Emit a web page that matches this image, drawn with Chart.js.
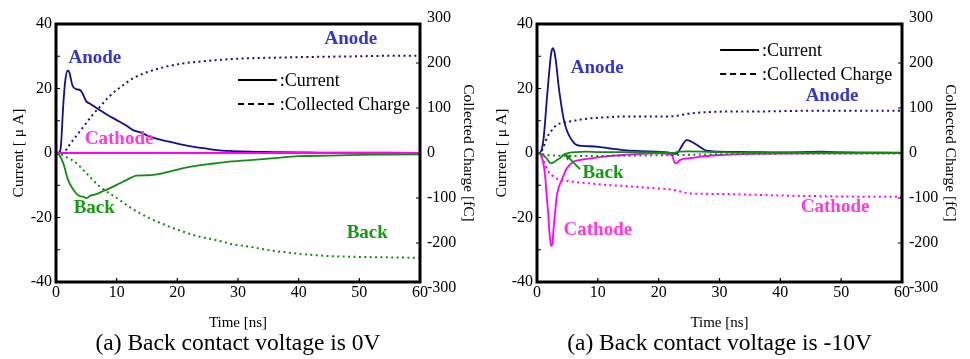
<!DOCTYPE html>
<html>
<head>
<meta charset="utf-8">
<script src="https://cdn.jsdelivr.net/npm/chart.js@4.4.0/dist/chart.umd.min.js"></script>
<style>
html, body { margin: 0; padding: 0; background: #fff; }
#wrap { position: relative; width: 970px; height: 359px; overflow: hidden; }
canvas { position: absolute; top: 0; }
#c0 { left: 0; }
#c1 { left: 485px; }
</style>
</head>
<body>
<div id="wrap">
  <canvas id="c0" width="485" height="359"></canvas>
  <canvas id="c1" width="485" height="359"></canvas>
</div>
<script>
// ---- data: back contact voltage 0V ----
const tA0 = [0, 0.5, 0.8, 1.2, 1.5, 1.9, 2.2, 2.7, 3.3, 4.0, 4.5, 5.0, 5.6, 7.2, 8.5, 10, 11.5, 12.7, 14, 15.5, 17, 19, 21, 23, 25, 26.5, 29, 32, 36, 40, 45, 50, 55, 60];
const iA0 = [0, 0.2, 2, 15, 22, 25.5, 25, 21, 19.8, 19.5, 18, 16, 15.3, 13.3, 11.8, 10.2, 8.6, 7.1, 6.3, 5.1, 4.2, 3.4, 2.5, 1.8, 1.3, 0.9, 0.6, 0.4, 0.3, 0.2, 0.1, 0.1, 0.1, 0];
const tQA0 = [0, 1.2, 2, 3, 4.5, 6, 7.25, 8.5, 10, 11.5, 12.7, 14.5, 16.5, 18.2, 20, 22, 23.7, 26, 29.2, 33, 37, 40, 45, 50, 55, 60];
const qA0 = [0, 0, 14, 32, 58, 84, 103, 122, 140, 155, 166, 177, 186, 192, 197, 201, 203, 206, 209, 211, 212, 213, 214, 215, 216, 216];
const tB0 = [0, 0.5, 1.2, 2, 2.9, 3.7, 4.4, 5.05, 5.6, 6.15, 7, 7.8, 9, 10, 11.5, 13.3, 15, 16.6, 19, 21, 23, 25.4, 28, 32, 36, 40, 45, 50, 55, 60];
const iB0 = [0, -0.5, -3.2, -8.4, -11.5, -13.2, -13.5, -14, -13.3, -13, -12.5, -11.8, -10.8, -9.9, -8.5, -7, -6.9, -6.6, -5.6, -4.7, -4, -3.4, -2.8, -2.2, -1.6, -1, -0.8, -0.6, -0.5, -0.4];
const tQB0 = [0, 1, 2, 3.4, 5, 7.25, 10, 12.7, 15, 18, 21, 23.7, 26.5, 29.2, 31.4, 34.7, 40, 45, 50, 55, 60];
const qB0 = [0, -4, -11, -23, -45, -75, -100, -125, -142, -160, -175, -186, -194, -203, -207, -215, -224, -229, -231, -232, -233];
const tC0 = [0, 60];
const iC0 = [0, 0];

// ---- data: back contact voltage -10V ----
const tA1 = [0, 0.5, 1.05, 1.3, 1.6, 2.0, 2.3, 2.58, 2.9, 3.2, 3.5, 3.9, 4.3, 4.8, 5.4, 6.0, 6.5, 7.5, 9.8, 12, 14.2, 17, 19.7, 21.5, 22.4, 23, 23.6, 24.6, 25.4, 26.3, 27.1, 27.9, 30, 35, 40, 47, 50, 55, 60];
const iA1 = [0, 0.1, 4, 9, 16.4, 25, 30.5, 32.5, 31, 27, 21.6, 16, 11.3, 7.5, 5, 3.3, 2.5, 2.2, 2, 1.4, 0.9, 0.6, 0.4, 0.2, -0.3, -0.2, 1.5, 4, 3.5, 2.5, 1.5, 0.7, 0.4, 0.3, 0.2, 0.4, 0.2, 0.1, 0.1];
const tQA1 = [0, 0.8, 1.6, 2.4, 3.2, 4.2, 5.4, 7, 8.7, 11, 14.2, 17, 20.8, 22.5, 23.5, 25.2, 27, 30.6, 35, 40, 47, 53, 60];
const qA1 = [0, 5, 33, 50, 62, 67, 70, 74, 77, 79, 81, 81, 81, 82, 84, 88, 90, 92, 92, 93, 94, 94, 94];
const tC1 = [0, 0.5, 1.05, 1.35, 1.6, 1.85, 2.02, 2.3, 2.55, 2.7, 2.95, 3.24, 3.6, 4.06, 4.88, 5.97, 7.2, 8.7, 11, 14.2, 17, 19.7, 21.5, 22.2, 22.7, 23.1, 23.5, 25.2, 27.5, 30.6, 35, 40, 50, 60];
const iC1 = [0, -0.3, -3.2, -7.5, -13.5, -19, -23.9, -28.8, -28, -23.9, -19, -13.5, -10.5, -8.4, -4.8, -2.7, -2.1, -1.7, -1.1, -0.6, -0.3, -0.1, -0.3, -0.8, -3.2, -3.0, -2.2, -1.6, -1.0, -0.6, -0.3, -0.2, -0.1, 0];
const tQC1 = [0, 0.8, 1.86, 2.8, 3.78, 5, 5.97, 8, 11.5, 15, 19, 22.4, 25.2, 30, 36.1, 42, 47, 53, 60];
const qC1 = [0, -10, -41, -53, -60, -62, -64, -67, -71, -74, -78, -82, -90, -91, -93, -95, -96, -97, -97];
const tB1 = [0, 0.5, 1.0, 1.6, 2.0, 2.4, 2.8, 3.24, 3.8, 4.3, 4.8, 5.4, 6.5, 8, 10, 15, 20, 22.5, 23.2, 25, 30, 40, 50, 60];
const iB1 = [0, -0.1, -0.6, -1.7, -2.8, -3.2, -2.9, -2.2, -1.6, -0.6, -0.2, 0.1, 0.3, 0.4, 0.3, 0.3, 0.2, 0, 0.4, 0.5, 0.3, 0.1, 0.2, 0];
const tQB1 = [0, 1, 2, 4, 7, 10, 15, 20, 23, 27, 35, 45, 60];
const qB1 = [0, -3, -5, -6, -6.5, -6.5, -6, -5, -4.5, -3.5, -2, -1, -1];

// ---- axis ticks ----
const xTicks = [0, 10, 20, 30, 40, 50, 60];
const currentTicks = [-40, -20, 0, 20, 40];
const chargeTicks = [-300, -200, -100, 0, 100, 200, 300];

const NAVY = '#10108c', MAG = '#ff00ff', GRN = '#138a13';
const LNAVY = '#3636c8', LMAG = '#ff3ad8', LGRN = '#169a16';
const SERIF = "'Liberation Serif', 'Times New Roman', serif";

function pts(ts, vs) { return ts.map((t, i) => ({ x: t, y: vs[i] })); }
function cur(ts, vs, color) {
  return { data: pts(ts, vs), yAxisID: 'y', borderColor: color, borderWidth: 1.8,
    pointRadius: 0, fill: false, cubicInterpolationMode: 'monotone' };
}
function chg(ts, vs, color) {
  return { data: pts(ts, vs), yAxisID: 'y2', borderColor: color, borderWidth: 2,
    borderDash: [2, 3.4], pointRadius: 0, fill: false, cubicInterpolationMode: 'monotone' };
}

const framePlugin = {
  id: 'frame',
  afterDatasetsDraw(chart) {
    const { ctx, chartArea: a, scales } = chart;
    ctx.save();
    ctx.strokeStyle = '#000';
    ctx.lineWidth = 1.2;
    ctx.beginPath();
    [10, 20, 30, 40, 50].forEach(v => {
      const px = scales.x.getPixelForValue(v);
      ctx.moveTo(px, a.bottom); ctx.lineTo(px, a.bottom - 4);
    });
    [-30, -20, -10, 10, 20, 30].forEach(v => {
      const py = scales.y.getPixelForValue(v);
      ctx.moveTo(a.left, py); ctx.lineTo(a.left + 4, py);
    });
    [-200, -100, 100, 200].forEach(v => {
      const py = scales.y2.getPixelForValue(v);
      ctx.moveTo(a.right, py); ctx.lineTo(a.right - 4, py);
    });
    ctx.stroke();
    ctx.lineWidth = 3;
    ctx.strokeRect(a.left, a.top, a.right - a.left, a.bottom - a.top);
    ctx.restore();
  }
};

const notesPlugin = {
  id: 'notes',
  afterDraw(chart, args, opts) {
    const { ctx, chartArea: a, scales: { x, y } } = chart;
    ctx.save();
    ctx.textAlign = 'center';
    ctx.textBaseline = 'middle';
    ctx.font = 'bold 19px ' + SERIF;
    opts.labels.forEach(l => {
      ctx.fillStyle = l.color;
      ctx.fillText(l.text, x.getPixelForValue(l.t), y.getPixelForValue(l.v));
    });
    if (opts.arrow) {
      const r = opts.arrow;
      const x0 = x.getPixelForValue(r.from[0]), y0 = y.getPixelForValue(r.from[1]);
      const x1 = x.getPixelForValue(r.to[0]), y1 = y.getPixelForValue(r.to[1]);
      ctx.strokeStyle = GRN; ctx.fillStyle = GRN; ctx.lineWidth = 1.8;
      ctx.beginPath(); ctx.moveTo(x0, y0); ctx.lineTo(x1, y1); ctx.stroke();
      const ang = Math.atan2(y1 - y0, x1 - x0);
      ctx.beginPath();
      ctx.moveTo(x1, y1);
      ctx.lineTo(x1 - 7 * Math.cos(ang - 0.45), y1 - 7 * Math.sin(ang - 0.45));
      ctx.lineTo(x1 - 7 * Math.cos(ang + 0.45), y1 - 7 * Math.sin(ang + 0.45));
      ctx.closePath(); ctx.fill();
    }
    // legend
    const lg = opts.legend;
    const lx0 = x.getPixelForValue(lg.t0), lx1 = x.getPixelForValue(lg.t1);
    const ly0 = y.getPixelForValue(lg.v0), ly1 = y.getPixelForValue(lg.v1);
    ctx.strokeStyle = '#000'; ctx.fillStyle = '#000'; ctx.lineWidth = 2;
    ctx.beginPath(); ctx.moveTo(lx0, ly0); ctx.lineTo(lx1, ly0); ctx.stroke();
    ctx.setLineDash([6, 4]);
    ctx.beginPath(); ctx.moveTo(lx0, ly1); ctx.lineTo(lx1, ly1); ctx.stroke();
    ctx.setLineDash([]);
    ctx.textAlign = 'left';
    ctx.font = '18px ' + SERIF;
    ctx.fillText(':Current', lx1 + 3, ly0 + 1);
    ctx.fillText(':Collected Charge', lx1 + 3, ly1 + 1);
    // caption
    ctx.textAlign = 'center';
    ctx.font = '23.5px ' + SERIF;
    ctx.fillText(opts.caption, (a.left + a.right) / 2, 344);
    ctx.restore();
  }
};

function makeChart(id, datasets, cfg) {
  return new Chart(document.getElementById(id), {
    type: 'line',
    data: { datasets },
    plugins: [framePlugin, notesPlugin],
    options: {
      responsive: false,
      animation: false,
      devicePixelRatio: 1,
      layout: { padding: { top: 24, left: 0, right: 0, bottom: 0 } },
      plugins: {
        legend: { display: false },
        tooltip: { enabled: false },
        notes: cfg.notes
      },
      scales: {
        x: {
          type: 'linear', min: 0, max: 60,
          afterBuildTicks: s => { s.ticks = xTicks.map(v => ({ value: v })); },
          afterFit: s => { s.height = 77; },
          grid: { display: false, drawTicks: false },
          border: { display: false },
          ticks: { color: '#000', font: { family: SERIF, size: 16 }, padding: 1, autoSkip: false, maxRotation: 0 },
          title: { display: true, text: 'Time [ns]', color: '#000', font: { family: SERIF, size: 15 }, padding: { top: 0, bottom: 27 } }
        },
        y: {
          position: 'left', min: -40, max: 40,
          afterBuildTicks: s => { s.ticks = currentTicks.map(v => ({ value: v })); },
          afterFit: s => { s.width = cfg.yWidth; },
          grid: { display: false, drawTicks: false },
          border: { display: false },
          ticks: { color: '#000', font: { family: SERIF, size: 16 }, padding: 4, autoSkip: false },
          title: { display: true, text: 'Current [ μ A]', color: '#000', font: { family: SERIF, size: 15.5 }, padding: { top: cfg.yTitlePad, bottom: 0 } }
        },
        y2: {
          position: 'right', min: -286.7, max: 286.7,
          afterBuildTicks: s => { s.ticks = chargeTicks.map(v => ({ value: v })); },
          afterFit: s => { s.width = cfg.y2Width; },
          grid: { display: false, drawTicks: false },
          border: { display: false },
          ticks: { color: '#000', font: { family: SERIF, size: 16 }, padding: 7, autoSkip: false },
          title: { display: true, text: 'Collected Charge [fC]', color: '#000', font: { family: SERIF, size: 15.5 }, padding: { top: cfg.y2TitlePad, bottom: 0 } }
        }
      }
    }
  });
}

makeChart('c0', [
  cur(tC0, iC0, MAG),
  cur(tA0, iA0, NAVY),
  cur(tB0, iB0, GRN),
  chg(tQA0, qA0, NAVY),
  chg(tQB0, qB0, GRN)
], {
  yWidth: 56, y2Width: 65, yTitlePad: 9.7, y2TitlePad: 7.7,
  notes: {
    caption: '(a) Back contact voltage is 0V',
    labels: [
      { text: 'Anode', color: LNAVY, t: 6.4, v: 29.5 },
      { text: 'Anode', color: LNAVY, t: 48.6, v: 35.3 },
      { text: 'Cathode', color: LMAG, t: 10.4, v: 4.3 },
      { text: 'Back', color: LGRN, t: 6.3, v: -17 },
      { text: 'Back', color: LGRN, t: 51.3, v: -24.8 }
    ],
    legend: { t0: 30, t1: 36.4, v0: 22.6, v1: 15.2 }
  }
});

makeChart('c1', [
  cur(tB1, iB1, GRN),
  chg(tQB1, qB1, GRN),
  cur(tC1, iC1, MAG),
  cur(tA1, iA1, NAVY),
  chg(tQA1, qA1, NAVY),
  chg(tQC1, qC1, MAG)
], {
  yWidth: 52, y2Width: 68, yTitlePad: 7.7, y2TitlePad: 10.7,
  notes: {
    caption: '(a) Back contact voltage is -10V',
    labels: [
      { text: 'Anode', color: LNAVY, t: 9.9, v: 26.4 },
      { text: 'Anode', color: LNAVY, t: 48.5, v: 17.7 },
      { text: 'Back', color: LGRN, t: 10.85, v: -6.2 },
      { text: 'Cathode', color: LMAG, t: 10, v: -23.9 },
      { text: 'Cathode', color: LMAG, t: 49, v: -16.7 }
    ],
    arrow: { from: [7.07, -5], to: [4.6, -0.3] },
    legend: { t0: 30.1, t1: 36.5, v0: 31.9, v1: 24.5 }
  }
});
</script>
</body>
</html>
